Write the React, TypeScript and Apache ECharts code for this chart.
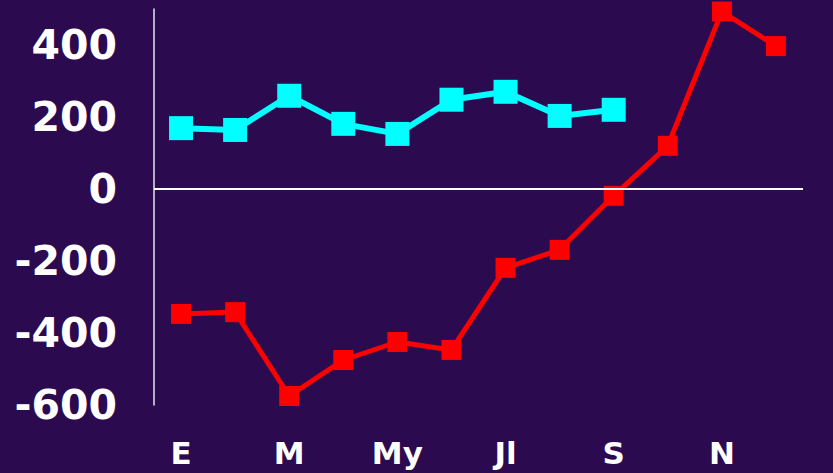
import React, { useEffect, useRef } from "react";
import * as echarts from "echarts";

const months = ["E", "F", "M", "A", "My", "Jn", "Jl", "Ag", "S", "O", "N", "D"];
const cyanValues = [169, 164, 259, 181, 153, 248, 270, 203, 220];
const redValues = [-347, -342, -575, -475, -425, -447, -219, -169, -19, 120, 493, 397];
const yMin = -600;
const yMax = 500;
const yInterval = 200;

export default function App() {
  const ref = useRef<HTMLDivElement>(null);
  useEffect(() => {
    if (!ref.current) return;
    const chart = echarts.init(ref.current, null, { renderer: "svg" });
    chart.setOption({
      animation: false,
      backgroundColor: "#2b0a50",
      grid: { left: 154, right: 30, top: 9, bottom: 68, containLabel: false },
      xAxis: {
        type: "category",
        data: months,
        boundaryGap: true,
        position: "bottom",
        axisLine: { show: false, onZero: false },
        axisTick: { show: false },
        splitLine: { show: false },
        axisLabel: {
          interval: 1,
          color: "#ffffff",
          fontFamily: "DejaVu Sans",
          fontWeight: "bold",
          fontSize: 31,
          margin: 32,
        },
      },
      yAxis: {
        type: "value",
        min: yMin,
        max: yMax,
        interval: yInterval,
        axisLine: { show: true, lineStyle: { color: "#e6e6ee", width: 1.5 } },
        axisTick: { show: false },
        splitLine: { show: false },
        axisLabel: {
          color: "#ffffff",
          fontFamily: "DejaVu Sans",
          fontWeight: "bold",
          fontSize: 41,
          margin: 37,
          formatter: (v: number) => (v === yMax ? "" : String(v)),
        },
      },
      series: [
        {
          type: "line",
          data: cyanValues,
          symbol: "rect",
          symbolSize: 24,
          itemStyle: { color: "#00ffff" },
          lineStyle: { color: "#00ffff", width: 6 },
          markLine: {
            silent: true,
            symbol: "none",
            label: { show: false },
            lineStyle: { color: "#ffffff", width: 2, type: "solid" },
            data: [{ yAxis: 0 }],
          },
        },
        {
          type: "line",
          data: redValues,
          symbol: "rect",
          symbolSize: 20,
          itemStyle: { color: "#ff0000" },
          lineStyle: { color: "#ff0000", width: 5 },
        },
      ],
    });
    return () => chart.dispose();
  }, []);
  return (
    <div
      ref={ref}
      style={{ position: "absolute", left: 0, top: 0, width: 833, height: 473 }}
    />
  );
}
